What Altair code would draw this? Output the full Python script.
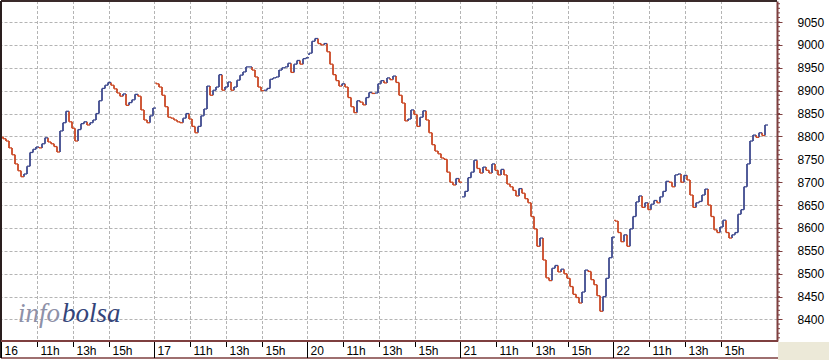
import altair as alt
import pandas as pd

# ---------------- data ----------------
day_labels = ["16", "17", "20", "21", "22"]
hour_labels = ["11h", "13h", "15h"]
day_open = [8800, 8918, 8978, 8668, 8618]

close_16 = [8795, 8790, 8775, 8760, 8740, 8725, 8712, 8718, 8735, 8765,
            8772, 8777, 8775, 8784, 8797, 8788, 8784, 8778, 8766, 8812,
            8830, 8855, 8832, 8818, 8790, 8815, 8828, 8832, 8825, 8830,
            8836, 8850, 8878, 8905, 8912, 8918, 8912, 8904, 8895, 8888,
            8893, 8868, 8874, 8880, 8892, 8888, 8858, 8836, 8830, 8845,
            8862]
close_17 = [8915, 8908, 8890, 8865, 8842, 8840, 8836, 8832, 8830, 8840,
            8850, 8838, 8822, 8808, 8822, 8845, 8860, 8910, 8890, 8901,
            8908, 8935, 8901, 8908, 8919, 8901, 8908, 8923, 8934, 8941,
            8952, 8952, 8945, 8930, 8908, 8900, 8901, 8905, 8925, 8928,
            8930, 8945, 8950, 8952, 8960, 8940, 8958, 8966, 8958, 8970,
            8972]
close_20 = [8982, 9008, 9014, 9003, 9000, 9003, 8985, 8958, 8935, 8922,
            8910, 8915, 8908, 8885, 8865, 8852, 8878, 8875, 8869, 8885,
            8896, 8894, 8895, 8915, 8922, 8917, 8928, 8924, 8932, 8918,
            8890, 8873, 8834, 8838, 8858, 8848, 8822, 8842, 8856, 8836,
            8808, 8782, 8768, 8762, 8753, 8750, 8722, 8700, 8694, 8708,
            8700]
close_21 = [8668, 8680, 8710, 8722, 8748, 8730, 8720, 8733, 8726, 8720,
            8740, 8726, 8716, 8728, 8716, 8696, 8690, 8682, 8670, 8686,
            8676, 8664, 8655, 8625, 8598, 8560, 8578, 8530, 8491, 8485,
            8512, 8518, 8504, 8510, 8500, 8490, 8472, 8455, 8448, 8436,
            8460, 8508, 8505, 8487, 8476, 8452, 8418, 8450, 8490, 8535,
            8580]
close_22 = [8615, 8590, 8570, 8585, 8560, 8598, 8625, 8657, 8670, 8645,
            8655, 8640, 8652, 8660, 8655, 8668, 8680, 8702, 8700, 8690,
            8716, 8718, 8700, 8715, 8705, 8672, 8645, 8655, 8658, 8672,
            8685, 8650, 8625, 8596, 8590, 8602, 8617, 8590, 8578, 8585,
            8590, 8630, 8640, 8690, 8740, 8790, 8803, 8798, 8808, 8802,
            8825]
days = [close_16, close_17, close_20, close_21, close_22]

y_ticks = list(range(8400, 9051, 50))
y_minor = list(range(8360, 9091, 10))

# ---------------- styling ----------------
BLUE = "#3F4A8E"
RED = "#CA4824"
AXIS = "#7E3F3F"
GRID = "#B4B4B4"
FONT = "Liberation Sans"
W, H = 776, 340
DAY_H = 8.5          # trading hours per day
STEP = 10 / 60       # bar length in hours

xs = alt.Scale(domain=[-0.028, 43.083], nice=False, zero=False)
ys = alt.Scale(domain=[8353, 9096], nice=False, zero=False)

y_axis = alt.Axis(
    orient="right", values=y_ticks, format="d", grid=True, gridColor=GRID,
    gridDash=[3, 2], gridWidth=1, domainColor=AXIS, domainWidth=2, tickColor=AXIS,
    tickSize=5, tickWidth=1, labelFont=FONT, labelFontSize=12, labelColor="#000000",
    labelPadding=15, title=None)

rows = []
for d, closes in enumerate(days):
    prev = day_open[d]
    for i, c in enumerate(closes):
        t = d * DAY_H + (i * 10 + 5) / 60
        rows.append(dict(t=t, t2=t + STEP, o=prev, c=c,
                         dir="up" if c >= prev else "down"))
        prev = c
bars = pd.DataFrame(rows)

tick_rows = []
for d, lab in enumerate(day_labels):
    tick_rows.append(dict(t=d * DAY_H, label=lab, kind="day"))
    for k, hl in enumerate(hour_labels):
        tick_rows.append(dict(t=d * DAY_H + 2 * (k + 1), label=hl, kind="hour"))
ticks = pd.DataFrame(tick_rows)

minor = pd.DataFrame({"v": y_minor})

color = alt.Color("dir:N", scale=alt.Scale(domain=["up", "down"], range=[BLUE, RED]),
                  legend=None)

corner = alt.Chart(pd.DataFrame({"a": [0]})).mark_rect(color="#ECE9D8").encode(
    x=alt.value(W + 1), x2=alt.value(W + 60), y=alt.value(H + 1), y2=alt.value(H + 30))

vgrid = alt.Chart(ticks).mark_rule(color=GRID, strokeDash=[3, 2], strokeWidth=1).encode(
    x=alt.X("t:Q", scale=xs, axis=None), y=alt.value(0), y2=alt.value(H))

vert = alt.Chart(bars).mark_rule(strokeWidth=1.8).encode(
    x=alt.X("t:Q", scale=xs, axis=None),
    y=alt.Y("c:Q", scale=ys, axis=y_axis),
    y2="o:Q",
    color=color,
)

horiz = alt.Chart(bars).mark_rule(strokeWidth=1.3).encode(
    x=alt.X("t:Q", scale=xs, axis=None), x2="t2:Q",
    y=alt.Y("c:Q", scale=ys, axis=y_axis),
    color=color,
)

minor_ticks = alt.Chart(minor).mark_rule(color=AXIS, strokeWidth=1).encode(
    x=alt.value(W), x2=alt.value(W + 3),
    y=alt.Y("v:Q", scale=ys, axis=y_axis))

wm_info = alt.Chart(pd.DataFrame({"s": ["info"]})).mark_text(
    font="Liberation Serif", fontStyle="italic", fontSize=27, color="#8E91A8",
    align="left", baseline="alphabetic").encode(
    text="s:N", x=alt.value(17), y=alt.value(321))
wm_bolsa = alt.Chart(pd.DataFrame({"s": ["bolsa"]})).mark_text(
    font="Liberation Serif", fontStyle="italic", fontSize=27, color="#34457A",
    align="left", baseline="alphabetic").encode(
    text="s:N", x=alt.value(61), y=alt.value(321))

line_df = pd.DataFrame({"a": [0]})
top_border = alt.Chart(line_df).mark_rule(color="#3A2A2A", strokeWidth=2).encode(
    x=alt.value(0), x2=alt.value(W), y=alt.value(0))
left_border = alt.Chart(line_df).mark_rule(color="#2A1E1E", strokeWidth=2).encode(
    x=alt.value(0), y=alt.value(0), y2=alt.value(H + 17))
bottom_line = alt.Chart(line_df).mark_rule(color=AXIS, strokeWidth=2).encode(
    x=alt.value(0), x2=alt.value(W + 1), y=alt.value(H))
strip_line = alt.Chart(line_df).mark_rule(color=AXIS, strokeWidth=1.5).encode(
    x=alt.value(0), x2=alt.value(W + 1), y=alt.value(H + 17))

day_ticks = alt.Chart(ticks).transform_filter("datum.kind == 'day'").mark_rule(
    color="#000000", strokeWidth=1).encode(
    x=alt.X("t:Q", scale=xs, axis=None), y=alt.value(H + 1), y2=alt.value(H + 17))
hour_ticks = alt.Chart(ticks).transform_filter("datum.kind == 'hour'").mark_rule(
    color="#000000", strokeWidth=1).encode(
    x=alt.X("t:Q", scale=xs, axis=None), y=alt.value(H + 1), y2=alt.value(H + 6))
x_labels = alt.Chart(ticks).mark_text(
    font=FONT, fontSize=12, color="#000000", align="left", baseline="middle", dx=3).encode(
    x=alt.X("t:Q", scale=xs, axis=None), y=alt.value(H + 9.5), text="label:N")

chart = alt.layer(
    corner, vgrid, vert, horiz, minor_ticks, wm_info, wm_bolsa,
    top_border, left_border, bottom_line, strip_line, day_ticks, hour_ticks, x_labels,
).properties(
    width=W, height=H,
    autosize=alt.AutoSizeParams(type="none"),
    padding={"left": 1, "top": 1, "right": 52, "bottom": 19},
    background="#FFFFFF",
).configure_view(stroke=None)

chart.save("out.html", embed_options={"renderer": "svg", "actions": False})
